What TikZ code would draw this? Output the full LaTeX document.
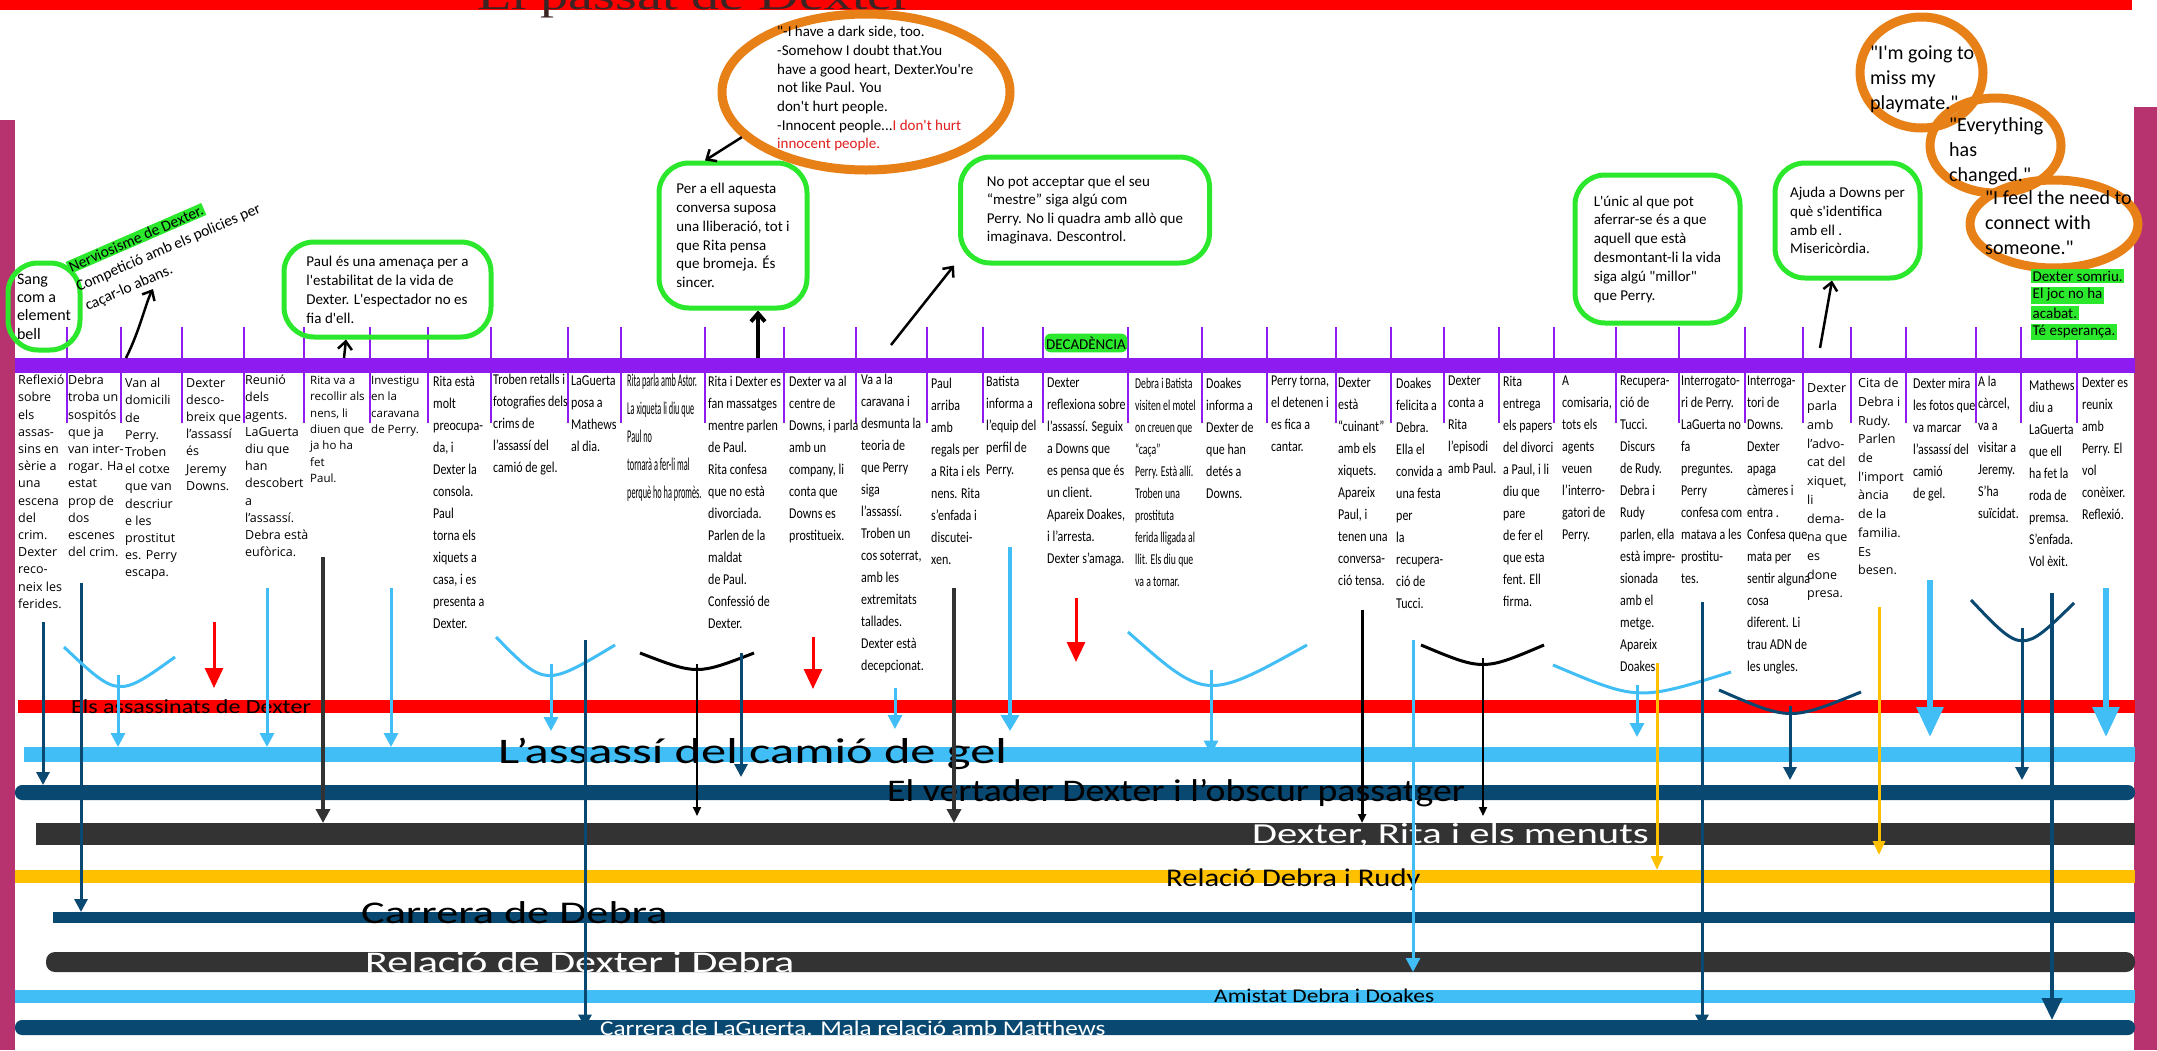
\documentclass[tikz,border=0pt]{standalone}
\usepackage{fontspec}
\setmainfont{Carlito}
\newfontfamily\calfam{Carlito}
\newfontfamily\condfam[FakeStretch=0.8]{Carlito}
\newfontfamily\narrowfam[FakeStretch=0.65]{Carlito}
\newfontfamily\tightfam[FakeStretch=0.46]{Carlito}
\newfontfamily\midfam[FakeStretch=1.2]{Carlito}
\newfontfamily\widefam[FakeStretch=1.4]{Carlito}
\newfontfamily\sansfam{Open Sans}
\newfontfamily\titlefam[FakeStretch=1.4]{Liberation Serif}
\usetikzlibrary{arrows.meta,shapes.geometric}
\definecolor{topred}{RGB}{255,0,0}
\definecolor{titlegray}{RGB}{60,36,36}
\definecolor{sidebar}{RGB}{183,51,112}
\definecolor{timeline}{RGB}{142,27,239}
\definecolor{bubgreen}{RGB}{44,232,44}
\definecolor{ringorange}{RGB}{232,128,24}
\definecolor{quotered}{RGB}{225,30,30}
\definecolor{redband}{RGB}{255,0,0}
\definecolor{skyband}{RGB}{64,190,245}
\definecolor{navyband}{RGB}{9,72,112}
\definecolor{coalband}{RGB}{51,51,51}
\definecolor{goldband}{RGB}{255,192,0}
\tikzset{
band/.style={anchor=west, inner sep=0pt, outer sep=0pt},
tickmark/.style={draw=timeline, line width=2.5pt},
coltext/.style={anchor=north west, inner sep=0pt, align=left, font=\condfam\fontsize{15}{22}\selectfont},
colsans/.style={coltext, font=\sansfam\fontsize{12.5}{17.2}\selectfont},
bubble/.style={draw=bubgreen, line width=5pt, rounded corners=30pt, inner sep=4pt, align=left, font=\calfam\fontsize{15}{19}\selectfont},
ring/.style={ellipse, draw=ringorange, line width=9pt, inner sep=0pt},
quote/.style={anchor=north west, inner sep=0pt, align=left, font=\calfam\fontsize{20}{25}\selectfont},
glow/.style={fill=bubgreen, inner xsep=1.5pt, inner ysep=2pt, font=\calfam\fontsize{15}{18}\selectfont},
lbl/.style={anchor=base west, inner sep=0pt},
inkarrow/.style={draw=black, line width=2.5pt, -{Straight Barb[length=8pt,width=14pt]}},
skylink/.style={draw=skyband, line width=3pt, -{Triangle[length=14pt,width=14pt]}},
navylink/.style={draw=navyband, line width=3pt, -{Triangle[length=13pt,width=13pt]}},
redlink/.style={draw=redband, line width=3pt, -{Triangle[length=20pt,width=18pt]}},
coallink/.style={draw=coalband, line width=4pt, -{Triangle[length=14pt,width=14pt]}},
blacklink/.style={draw=black, line width=2pt, -{Triangle[length=9pt,width=8pt]}},
goldlink/.style={draw=goldband, line width=3pt, -{Triangle[length=14pt,width=12pt]}},
skyarc/.style={draw=skyband, line width=3pt},
navyarc/.style={draw=navyband, line width=3pt},
blackarc/.style={draw=black, line width=3pt}}

\begin{document}
\begin{tikzpicture}[x=1pt,y=1pt,yscale=-1]
\useasboundingbox (0,0) rectangle (2157,1050);
\fill[white] (0,0) rectangle (2157,1050);

%Strip: top red
\fill[topred] (0,0) rectangle (2132,10);
%Text: title
\node[anchor=base west, inner sep=0pt, font=\titlefam\fontsize{40}{40}\selectfont, text=titlegray] (title) at (477,9) {El passat de Dexter};

%Strip: side bars
\fill[sidebar] (0,120) rectangle (15,1050);
\fill[sidebar] (2134,107) rectangle (2157,1050);

%Shape: timeline and ticks
\node[band, fill=timeline, minimum width=2120, minimum height=15] (timeline) at (15,365.5) {};
\draw[tickmark] (67,327) -- (67,423) (121,327) -- (121,423) (182,327) -- (182,423)
 (244,327) -- (244,423) (304,327) -- (304,423) (370,327) -- (370,423) (428,327) -- (428,423)
 (491,327) -- (491,423) (568,327) -- (568,423) (621,327) -- (621,423) (705,327) -- (705,423)
 (784,327) -- (784,423) (856,327) -- (856,423) (927,327) -- (927,423) (983,327) -- (983,423)
 (1043,327) -- (1043,423) (1128,327) -- (1128,423) (1202,327) -- (1202,423) (1267,327) -- (1267,423)
 (1336,327) -- (1336,423) (1391,327) -- (1391,423) (1444,327) -- (1444,423) (1499,327) -- (1499,423)
 (1554,327) -- (1554,423) (1616,327) -- (1616,423) (1679,327) -- (1679,423) (1745,327) -- (1745,423)
 (1803,327) -- (1803,423) (1851,327) -- (1851,423) (1906,327) -- (1906,423) (1976,327) -- (1976,423)
 (2021,327) -- (2021,423) (2077,327) -- (2077,423);

%Text: episode columns
\node[colsans] (c1) at (18,375) {Reflexió\\sobre\\els\\assas-\\sins en\\sèrie a\\una\\escena\\del\\crim.\\Dexter\\reco-\\neix les\\ferides.};
\node[colsans] (c2) at (68,375) {Debra\\troba un\\sospitós\\que ja\\van inter-\\rogar. Ha\\estat\\prop de\\dos\\escenes\\del crim.};
\node[colsans] (c3) at (125,378) {Van al\\domicili\\de\\Perry.\\Troben\\el cotxe\\que van\\descriur\\e les\\prostitut\\es. Perry\\escapa.};
\node[colsans] (c4) at (186,378) {Dexter\\desco-\\breix que\\l’assassí\\és\\Jeremy\\Downs.};
\node[colsans] (c5) at (245,375) {Reunió\\dels\\agents.\\LaGuerta\\diu que\\han\\descobert\\a\\l’assassí.\\Debra està\\eufòrica.};
\node[colsans, font=\sansfam\fontsize{11.5}{16.3}\selectfont] (c6) at (310,376) {Rita va a\\recollir als\\nens, li\\diuen que\\ja ho ha\\fet\\Paul.};
\node[colsans, font=\sansfam\fontsize{11.5}{16.3}\selectfont] (c7) at (371,376) {Investigu\\en la\\caravana\\de Perry.};
\node[coltext] (c8) at (433,376) {Rita està\\molt\\preocupa-\\da, i\\Dexter la\\consola.\\Paul\\torna els\\xiquets a\\casa, i es\\presenta a\\Dexter.};
\node[coltext] (c9) at (493,374) {Troben retalls i\\fotografies dels\\crims de\\l’assassí del\\camió de gel.};
\node[coltext] (c10) at (571,376) {LaGuerta\\posa a\\Mathews\\al dia.};
\node[coltext, font=\tightfam\fontsize{18}{28}\selectfont] (c11) at (627,374) {Rita parla amb Astor.\\La xiqueta li diu que\\Paul no\\tornarà a fer-li mal\\perquè ho ha promès.};
\node[coltext] (c12) at (708,376) {Rita i Dexter es\\fan massatges\\mentre parlen\\de Paul.\\Rita confesa\\que no està\\divorciada.\\Parlen de la\\maldat\\de Paul.\\Confessió de\\Dexter.};
\node[coltext] (c13) at (789,376) {Dexter va al\\centre de\\Downs, i parla\\amb un\\company, li\\conta que\\Downs es\\prostitueix.};
\node[coltext] (c14) at (861,374) {Va a la\\caravana i\\desmunta la\\teoria de\\que Perry\\siga\\l’assassí.\\Troben un\\cos soterrat,\\amb les\\extremitats\\tallades.\\Dexter està\\decepcionat.};
\node[coltext] (c15) at (931,378) {Paul\\arriba\\amb\\regals per\\a Rita i els\\nens. Rita\\s’enfada i\\discutei-\\xen.};
\node[coltext] (c16) at (986,376) {Batista\\informa a\\l’equip del\\perfil de\\Perry.};
\node[coltext] (c17) at (1047,378) {Dexter\\reflexiona sobre\\l’assassí. Seguix\\a Downs que\\es pensa que és\\un client.\\Apareix Doakes,\\i l’arresta.\\Dexter s’amaga.};
\node[coltext, font=\narrowfam\fontsize{15}{22}\selectfont] (c18) at (1135,378) {Debra i Batista\\visiten el motel\\on creuen que\\“caça”\\Perry. Està allí.\\Troben una\\prostituta\\ferida lligada al\\llit. Els diu que\\va a tornar.};
\node[coltext] (c19) at (1206,378) {Doakes\\informa a\\Dexter de\\que han\\detés a\\Downs.};
\node[coltext] (c20) at (1271,376) {Perry torna,\\el detenen i\\es fica a\\cantar.};
\node[coltext] (c21) at (1338,378) {Dexter\\està\\“cuinant”\\amb els\\xiquets.\\Apareix\\Paul, i\\tenen una\\conversa-\\ció tensa.};
\node[coltext] (c22) at (1396,378) {Doakes\\felicita a\\Debra.\\Ella el\\convida a\\una festa\\per\\la\\recupera-\\ció de\\Tucci.};
\node[coltext] (c23) at (1448,376) {Dexter\\conta a\\Rita\\l’episodi\\amb Paul.};
\node[coltext] (c24) at (1503,376) {Rita\\entrega\\els papers\\del divorci\\a Paul, i li\\diu que\\pare\\de fer el\\que esta\\fent. Ell\\firma.};
\node[coltext] (c25) at (1562,376) {A\\comisaria,\\tots els\\agents\\veuen\\l’interro-\\gatori de\\Perry.};
\node[coltext] (c26) at (1620,376) {Recupera-\\ció de\\Tucci.\\Discurs\\de Rudy.\\Debra i\\Rudy\\parlen, ella\\està impre-\\sionada\\amb el\\metge.\\Apareix\\Doakes.};
\node[coltext] (c27) at (1681,376) {Interrogato-\\ri de Perry.\\LaGuerta no\\fa\\preguntes.\\Perry\\confesa com\\matava a les\\prostitu-\\tes.};
\node[coltext] (c28) at (1747,376) {Interroga-\\tori de\\Downs.\\Dexter\\apaga\\càmeres i\\entra .\\Confesa que\\mata per\\sentir alguna\\cosa\\diferent. Li\\trau ADN de\\les ungles.};
\node[colsans, font=\sansfam\fontsize{12.5}{18.7}\selectfont] (c29) at (1807,383) {Dexter\\parla\\amb\\l’advo-\\cat del\\xiquet,\\li\\dema-\\na que\\es\\done\\presa.};
\node[colsans, font=\sansfam\fontsize{12.5}{18.7}\selectfont] (c30) at (1858,378) {Cita de\\Debra i\\Rudy.\\Parlen\\de\\l'import\\ància\\de la\\familia.\\Es\\besen.};
\node[coltext] (c31) at (1913,378) {Dexter mira\\les fotos que\\va marcar\\l’assassí del\\camió\\de gel.};
\node[coltext] (c32) at (1978,376) {A la\\càrcel,\\va a\\visitar a\\Jeremy.\\S’ha\\suïcidat.};
\node[coltext] (c33) at (2029,380) {Mathews\\diu a\\LaGuerta\\que ell\\ha fet la\\roda de\\premsa.\\S’enfada.\\Vol èxit.};
\node[coltext] (c34) at (2082,378) {Dexter es\\reunix\\amb\\Perry. El\\vol\\conèixer.\\Reflexió.};

%Shape: green bubbles
\node[bubble, font=\calfam\fontsize{16}{18.3}\selectfont, minimum width=72, minimum height=87] (sang) at (44,306.5) {Sang\\com a\\element\\bell};
\node[bubble, minimum width=207, minimum height=95] (paul) at (387.5,289.5) {Paul és una amenaça per a\\l'estabilitat de la vida de\\Dexter. L'espectador no es\\fia d'ell.};
\node[bubble, font=\calfam\fontsize{15}{18.7}\selectfont, minimum width=148, minimum height=145] (pera) at (733,235.5) {Per a ell aquesta\\conversa suposa\\una lliberació, tot i\\que Rita pensa\\que bromeja. És\\sincer.};
\node[bubble, font=\calfam\fontsize{15}{18.5}\selectfont, minimum width=249, minimum height=106] (nopot) at (1085,210) {No pot acceptar que el seu\\“mestre” siga algú com\\Perry. No li quadra amb allò que\\imaginava. Descontrol.};
\node[bubble, font=\calfam\fontsize{15}{18.8}\selectfont, minimum width=165, minimum height=148] (unic) at (1657.5,249) {L'únic al que pot\\aferrar-se és a que\\aquell que està\\desmontant-li la vida\\siga algú "millor"\\que Perry.};
\node[bubble, font=\calfam\fontsize{15}{18.7}\selectfont, minimum width=145, minimum height=115] (ajuda) at (1847.5,220.5) {Ajuda a Downs per\\què s'identifica\\amb ell .\\Misericòrdia.};

%Text: rotated note
\node[glow, inner ysep=1pt, rotate=23.5, anchor=west, font=\calfam\fontsize{15.5}{18}\selectfont] (nerv1) at (68,268) {Nerviosisme de Dexter.};
\node[rotate=23.5, anchor=west, inner sep=0pt, font=\calfam\fontsize{15.5}{18}\selectfont] (nerv2) at (77,288) {Competició amb els policies per};
\node[rotate=23.5, anchor=west, inner sep=0pt, font=\calfam\fontsize{15.5}{18}\selectfont] (nerv3) at (86,307) {caçar-lo abans.};

%Text: decadence mark
\node[glow, rounded corners=6pt, inner ysep=3pt] (decay) at (1086,343) {DECADÈNCIA};

%Shape: orange rings
\node[ring, minimum width=288, minimum height=156] (side) at (866,92) {};
\node[anchor=north west, inner sep=0pt, align=left, font=\calfam\fontsize{15}{18.7}\selectfont] (sidetext) at (777,26) {"-I have a dark side, too.\\-Somehow I doubt that.You\\have a good heart, Dexter.You're\\not like Paul. You\\don't hurt people.\\-Innocent people...\textcolor{quotered}{I don't hurt}\\\textcolor{quotered}{innocent people.}};
\node[ring, minimum width=123, minimum height=111] (play) at (1921.5,72.5) {};
\node[ring, minimum width=131, minimum height=95] (change) at (1995.5,145.5) {};
\node[ring, minimum width=168, minimum height=88] (connect) at (2054,224) {};
\node[quote] (playtext) at (1870,46) {"I'm going to\\miss my\\playmate."};
\node[quote] (changetext) at (1949,117) {"Everything\\has\\changed."};
\node[quote] (connecttext) at (1985,190) {"I feel the need to\\connect with\\someone."};

%Text: closing highlight
\node[glow, anchor=west] (hope1) at (2031,276) {Dexter somriu.};
\node[glow, anchor=west] (hope2) at (2031,295) {El joc no ha};
\node[glow, anchor=west] (hope3) at (2031,313) {acabat.};
\node[glow, anchor=west] (hope4) at (2031,332) {Té esperança.};

%Arrow: pointers above the timeline
\draw[inkarrow] (126,0 |- timeline.north) .. controls (140,330) and (146,302) .. (153,289);
\draw[inkarrow] (344,0 |- timeline.north) -- (346,0 |- paul.south);
\draw[inkarrow, line width=4pt] (758,0 |- timeline.north) -- (758,0 |- pera.south);
\draw[inkarrow] (side.200) -- (705,0 |- pera.north);
\draw[inkarrow] (891,345) -- (954,0 |- nopot.south);
\draw[inkarrow] (1820,348) -- (1832,0 |- ajuda.south);

%Band: story lines
\node[band, fill=redband, minimum width=2117, minimum height=13] (kills) at (18,706.5) {};
\node[band, fill=skyband, minimum width=2111, minimum height=15] (truck) at (24,754.5) {};
\node[band, fill=navyband, minimum width=2120, minimum height=15, rounded corners=7pt] (dark) at (15,792.5) {};
\node[band, fill=coalband, minimum width=2099, minimum height=22] (family) at (36,834) {};
\node[band, fill=goldband, minimum width=2120, minimum height=13] (rudy) at (15,876.5) {};
\node[band, fill=navyband, minimum width=2082, minimum height=11] (career) at (53,917.5) {};
\node[band, fill=coalband, minimum width=2089, minimum height=20, rounded corners=9pt] (sibling) at (46,962) {};
\node[band, fill=skyband, minimum width=2120, minimum height=13] (friends) at (15,996.5) {};
\node[band, fill=navyband, minimum width=2120, minimum height=15, rounded corners=7pt] (laguerta) at (15,1027.5) {};

%Text: band labels
\node[lbl, font=\midfam\fontsize{20}{20}\selectfont] (killslbl) at (71,713) {Els assassinats de Dexter};
\node[lbl, font=\widefam\fontsize{36}{36}\selectfont] (trucklbl) at (498,763) {L’assassí del camió de gel};
\node[lbl, font=\midfam\fontsize{31.5}{31.5}\selectfont] (darklbl) at (887,801) {El vertader Dexter i l’obscur passatger};
\node[lbl, font=\widefam\fontsize{29}{29}\selectfont, text=white] (familylbl) at (1252,843) {Dexter, Rita i els menuts};
\node[lbl, font=\midfam\fontsize{25.5}{25.5}\selectfont] (rudylbl) at (1166,886) {Relació Debra i Rudy};
\node[lbl, font=\widefam\fontsize{31.6}{31.6}\selectfont] (careerlbl) at (361,923) {Carrera de Debra};
\node[lbl, font=\widefam\fontsize{30}{30}\selectfont, text=white] (siblinglbl) at (365,972) {Relació de Dexter i Debra};
\node[lbl, font=\midfam\fontsize{19.5}{19.5}\selectfont] (friendslbl) at (1214,1002) {Amistat Debra i Doakes};
\node[lbl, font=\midfam\fontsize{21}{21}\selectfont, text=white] (laguertalbl) at (600,1035) {Carrera de LaGuerta. Mala relació amb Matthews};

%Arrow: episodes to story lines
\draw[navylink] (43,622) -- (43,0 |- dark.north);
\draw[navylink] (81,583) -- (81,0 |- career.north);
\draw[skyarc] (64,647) .. controls (118,698) .. (175,657);
\draw[skylink] (118,675) -- (118,0 |- truck.north);
\draw[redlink, shorten >=12pt] (214,622) -- (214,0 |- kills.north);
\draw[skylink] (267,588) -- (267,0 |- truck.north);
\draw[coallink] (323,557) -- (323,0 |- family.north);
\draw[skylink] (391,588) -- (391,0 |- truck.north);
\draw[skyarc] (496,637) .. controls (545,687) .. (615,645);
\draw[skylink, shorten >=16pt] (551,664) -- (551,0 |- truck.north);
\draw[navylink] (585,640) -- (585,0 |- laguerta.center);
\draw[blackarc] (640,653) .. controls (697,675) .. (754,653);
\draw[blacklink, shorten >=7pt] (697,664) -- (697,0 |- family.north);
\draw[navylink, shorten >=8pt] (741,653) -- (741,0 |- dark.north);
\draw[redlink, shorten >=11pt] (813,637) -- (813,0 |- kills.north);
\draw[skylink, shorten >=18pt] (895,688) -- (895,0 |- truck.north);
\draw[coallink] (954,588) -- (954,0 |- family.north);
\draw[skylink, line width=3.5pt, -{Triangle[length=16pt,width=18pt]}, shorten >=16pt] (1010,547) -- (1010,0 |- truck.north);
\draw[redlink, shorten >=38pt] (1076,598) -- (1076,0 |- kills.north);
\draw[skyarc] (1128,632) .. controls (1206,701) .. (1307,645);
\draw[skylink] (1211,670) -- (1211,0 |- truck.center);
\draw[blacklink, line width=3pt] (1362,610) -- (1362,0 |- family.north);
\draw[skylink] (1413,640) -- (1413,0 |- sibling.south);
\draw[blackarc] (1421,645) .. controls (1483,671) .. (1544,645);
\draw[blacklink, shorten >=7pt] (1483,658) -- (1483,0 |- family.north);
\draw[skyarc] (1553,665) .. controls (1638,701) .. (1731,672);
\draw[skylink, shorten >=10pt] (1637,685) -- (1637,0 |- truck.north);
\draw[goldlink] (1657,663) -- (1657,0 |- rudy.north);
\draw[navylink] (1702,602) -- (1702,0 |- laguerta.center);
\draw[navyarc] (1719,690) .. controls (1790,721) .. (1861,692);
\draw[navylink, shorten >=5pt] (1790,706) -- (1790,0 |- dark.north);
\draw[goldlink, shorten >=15pt] (1879,607) -- (1879,0 |- rudy.north);
\draw[skylink, line width=6pt, -{Triangle[length=30pt,width=26pt]}, shorten >=10pt] (1930,580) -- (1930,0 |- truck.north);
\draw[navyarc] (1971,600) .. controls (2022,654) .. (2074,603);
\draw[navylink, shorten >=5pt] (2022,628) -- (2022,0 |- dark.north);
\draw[navylink, line width=4pt, -{Triangle[length=22pt,width=20pt]}] (2052,593) -- (2052,0 |- laguerta.north);
\draw[skylink, line width=6pt, -{Triangle[length=30pt,width=26pt]}, shorten >=10pt] (2106,588) -- (2106,0 |- truck.north);

\end{tikzpicture}
\end{document}
